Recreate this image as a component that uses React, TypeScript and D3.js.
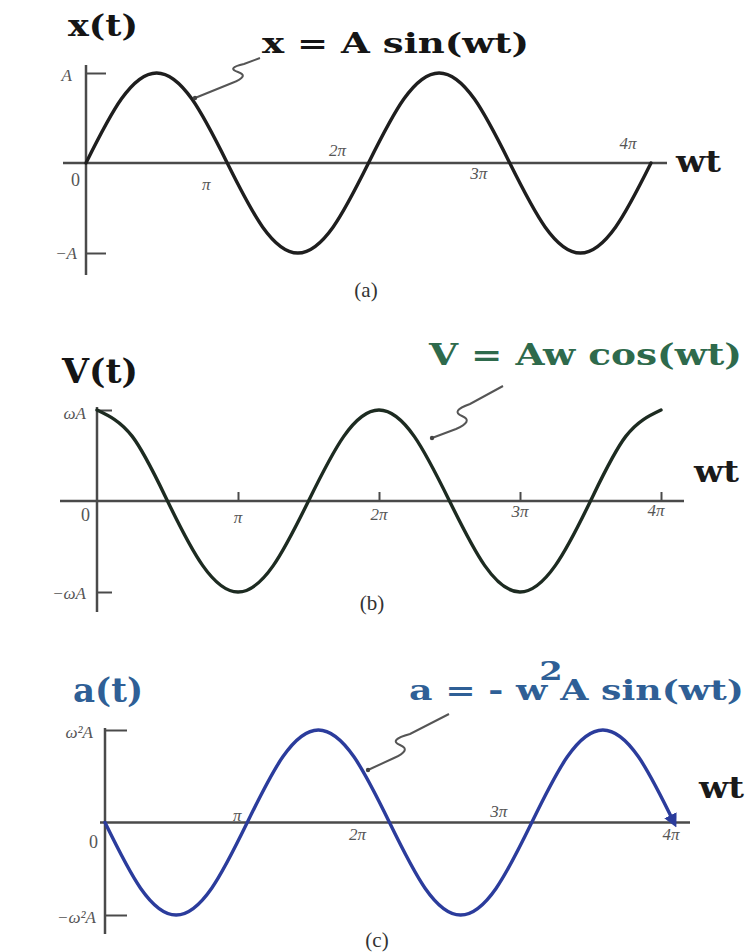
import React, { useEffect, useRef } from 'react';
import * as d3 from 'd3';

// phase of wt, in multiples of π
const phase = [0, 0.25, 0.5, 0.75, 1, 1.25, 1.5, 1.75, 2, 2.25, 2.5, 2.75, 3, 3.25, 3.5, 3.75, 4];
// values (in units of the amplitude)
const displacement = [0, 0.71, 1, 0.71, 0, -0.71, -1, -0.71, 0, 0.71, 1, 0.71, 0, -0.71, -1, -0.71, 0];
const velocity = [1, 0.71, 0, -0.71, -1, -0.71, 0, 0.71, 1, 0.71, 0, -0.71, -1, -0.71, 0, 0.71, 1];
const acceleration = [0, -0.71, -1, -0.71, 0, 0.71, 1, 0.71, 0, -0.71, -1, -0.71, 0, 0.71, 1, 0.71, 0];

const piTicks = [1, 2, 3, 4];
const piTickLabels = ['π', '2π', '3π', '4π'];
const ampTicks = [1, -1];
const ampTickLabels = [['A', '−A'], ['ωA', '−ωA'], ['ω²A', '−ω²A']];
const titles = ['x(t)', 'V(t)', 'a(t)'];
const captions = ['(a)', '(b)', '(c)'];

const axisColor = '#4a4a4a';
const labelFont = '"Liberation Serif", serif';
const titleFont = '"DejaVu Serif", serif';

function App() {
	const ref = useRef<SVGSVGElement>(null);

	useEffect(() => {
		const svg = d3.select(ref.current);
		svg.selectAll('*').remove();

		const panels = [
			{
				values: displacement, color: '#1e1e1e',
				x0: 86, x1: 651, yTop: 73, yBot: 253, axisL: 63, axisR: 667, vTop: 65, vBot: 275,
				tickUp: 0, yTickLen: 20,
				labDx: [-21, -31, -31, -23], labDy: [27, -7, 16, -14],
				ampX: [72, 77], ampDy: [8, 6], zeroX: 80, zeroDy: 23,
				title: { x: 68, y: 36, len: 70, size: 30, color: '#151515' },
				caption: { x: 366, y: 297 },
				wt: { x: 676, y: 172 },
				note: 'M195,98 L232,83 Q250,76 238,72 Q226,68 244,64 L260,58',
				noteHead: [195, 98],
			},
			{
				values: velocity, color: '#1d2b21',
				x0: 97, x1: 661, yTop: 410, yBot: 592, axisL: 60, axisR: 684, vTop: 407, vBot: 612,
				tickUp: 9, yTickLen: 15,
				labDx: [0, 0, 0, -5], labDy: [22, 19, 16, 15],
				ampX: [86, 86], ampDy: [9, 7], zeroX: 90, zeroDy: 20,
				title: { x: 62, y: 383, len: 76, size: 34, color: '#151515' },
				caption: { x: 372, y: 610 },
				wt: { x: 694, y: 482 },
				note: 'M432,438 L456,429 Q474,421 462,416 Q450,411 470,404 L503,386',
				noteHead: [432, 438],
			},
			{
				values: acceleration, color: '#2b3c9c',
				x0: 105, x1: 674, yTop: 730, yBot: 915, axisL: 100, axisR: 690, vTop: 728, vBot: 934,
				tickUp: 0, yTickLen: 22,
				labDx: [-10, -32, -33, -3], labDy: [-2, 17, -6, 17],
				ampX: [93, 96], ampDy: [8, 8], zeroX: 98, zeroDy: 25,
				title: { x: 73, y: 702, len: 70, size: 34, color: '#2f5f96' },
				caption: { x: 377, y: 947 },
				wt: { x: 699, y: 798 },
				note: 'M368,770 L394,758 Q412,750 400,745 Q388,740 410,734 L449,714',
				noteHead: [368, 770],
			},
		];

		const defs = svg.append('defs');
		defs.append('marker')
			.attr('id', 'endArrow')
			.attr('viewBox', '0 0 10 10')
			.attr('refX', 6)
			.attr('refY', 5)
			.attr('markerWidth', 4)
			.attr('markerHeight', 4)
			.attr('orient', 'auto')
			.append('path')
			.attr('d', 'M0,0 L10,5 L0,10 z')
			.attr('fill', '#2b3c9c');

		panels.forEach((p, i) => {
			const g = svg.append('g');
			const x = d3.scaleLinear().domain([0, 4]).range([p.x0, p.x1]);
			const y = d3.scaleLinear().domain([-1, 1]).range([p.yBot, p.yTop]);
			const y0 = y(0);

			// horizontal axis
			g.append('line')
				.attr('x1', p.axisL).attr('x2', p.axisR)
				.attr('y1', y0).attr('y2', y0)
				.attr('stroke', axisColor).attr('stroke-width', 2.5);

			const xAxis = g.append('g')
				.attr('transform', `translate(0,${y0})`)
				.call(d3.axisBottom(x).tickValues(piTicks).tickSize(-p.tickUp).tickFormat(() => ''));
			xAxis.select('.domain').remove();
			xAxis.selectAll('line').attr('stroke', axisColor).attr('stroke-width', 2);

			g.selectAll('text.xlab')
				.data(piTicks)
				.enter()
				.append('text')
				.attr('x', (d, j) => x(d) + p.labDx[j])
				.attr('y', (d, j) => y0 + p.labDy[j])
				.attr('text-anchor', 'middle')
				.attr('font-family', labelFont)
				.attr('font-style', 'italic')
				.attr('font-size', 17)
				.attr('fill', '#555')
				.text((d, j) => piTickLabels[j]);

			g.append('text')
				.attr('x', p.zeroX).attr('y', y0 + p.zeroDy)
				.attr('text-anchor', 'end')
				.attr('font-family', labelFont)
				.attr('font-size', 18)
				.attr('fill', '#555')
				.text('0');

			// vertical axis
			g.append('line')
				.attr('x1', p.x0).attr('x2', p.x0)
				.attr('y1', p.vTop).attr('y2', p.vBot)
				.attr('stroke', axisColor).attr('stroke-width', 2.5);

			const yAxis = g.append('g')
				.attr('transform', `translate(${p.x0},0)`)
				.call(d3.axisRight(y).tickValues(ampTicks).tickSize(p.yTickLen).tickFormat(() => ''));
			yAxis.select('.domain').remove();
			yAxis.selectAll('line').attr('stroke', axisColor).attr('stroke-width', 2);

			g.selectAll('text.ylab')
				.data(ampTicks)
				.enter()
				.append('text')
				.attr('x', (d, j) => p.ampX[j])
				.attr('y', (d, j) => y(d) + p.ampDy[j])
				.attr('text-anchor', 'end')
				.attr('font-family', labelFont)
				.attr('font-style', 'italic')
				.attr('font-size', 17)
				.attr('fill', '#555')
				.text((d, j) => ampTickLabels[i][j]);

			// curve
			const line = d3.line<number>()
				.x((d, j) => x(phase[j]))
				.y((d) => y(d))
				.curve(d3.curveNatural);

			g.append('path')
				.datum(p.values)
				.attr('d', line)
				.attr('fill', 'none')
				.attr('stroke', p.color)
				.attr('stroke-width', 3.4)
				.attr('stroke-linecap', 'round')
				.attr('marker-end', i === 2 ? 'url(#endArrow)' : null);

			// squiggle pointer to the curve
			g.append('path')
				.attr('d', p.note)
				.attr('fill', 'none')
				.attr('stroke', '#555')
				.attr('stroke-width', 2);
			g.append('circle')
				.attr('cx', p.noteHead[0]).attr('cy', p.noteHead[1])
				.attr('r', 2.2).attr('fill', '#444');

			// titles
			g.append('text')
				.attr('x', p.title.x).attr('y', p.title.y)
				.attr('font-family', titleFont).attr('font-weight', 'bold')
				.attr('font-size', p.title.size)
				.attr('textLength', p.title.len).attr('lengthAdjust', 'spacingAndGlyphs')
				.attr('fill', p.title.color)
				.text(titles[i]);

			g.append('text')
				.attr('x', p.wt.x).attr('y', p.wt.y)
				.attr('font-family', titleFont).attr('font-weight', 'bold')
				.attr('font-size', 30)
				.attr('textLength', 45).attr('lengthAdjust', 'spacingAndGlyphs')
				.attr('fill', '#1a1a1a')
				.text('wt');

			g.append('text')
				.attr('x', p.caption.x).attr('y', p.caption.y)
				.attr('text-anchor', 'middle')
				.attr('font-family', labelFont)
				.attr('font-size', 21)
				.attr('fill', '#333')
				.text(captions[i]);
		});

		// formulas
		const formula = (t: string, fx: number, fy: number, len: number, size: number, color: string) =>
			svg.append('text')
				.attr('x', fx).attr('y', fy)
				.attr('font-family', titleFont).attr('font-weight', 'bold')
				.attr('font-size', size)
				.attr('textLength', len).attr('lengthAdjust', 'spacingAndGlyphs')
				.attr('fill', color)
				.text(t);

		formula('x = A sin(wt)', 262, 53, 267, 28, '#151515');
		formula('V = Aw cos(wt)', 429, 365, 313, 30, '#2e6a4c');

		const acc = svg.append('text')
			.attr('x', 409).attr('y', 700)
			.attr('font-family', titleFont).attr('font-weight', 'bold')
			.attr('font-size', 28)
			.attr('textLength', 335).attr('lengthAdjust', 'spacingAndGlyphs')
			.attr('fill', '#2f5f96');
		acc.append('tspan').text('a = - w');
		acc.append('tspan').attr('dx', -6).attr('dy', -20).attr('font-size', 26).text('2');
		acc.append('tspan').attr('dx', -2).attr('dy', 20).text('A sin(wt)');
	}, []);

	return (
		<svg
			ref={ref}
			width={748}
			height={952}
			style={{ position: 'absolute', left: 0, top: 0, background: '#fff' }}
		/>
	);
}

export default App;
